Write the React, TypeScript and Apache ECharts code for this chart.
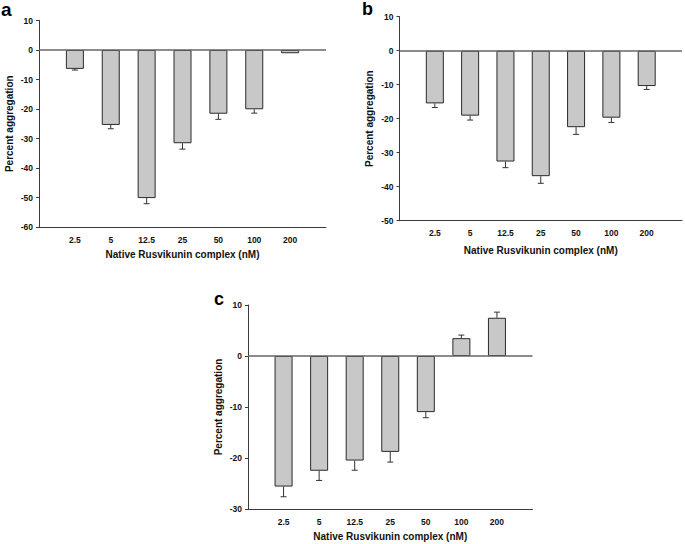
import React, { useEffect, useRef } from 'react';
import * as echarts from 'echarts';

const categories = ['2.5', '5', '12.5', '25', '50', '100', '200'];

const valuesA = [-6.4, -25.4, -50.2, -31.6, -21.6, -20.1, -1.1];
const errorsA = [0.4, 1.3, 1.9, 2.0, 1.9, 1.3, 0];

const valuesB = [-15.5, -19.1, -32.6, -36.9, -22.5, -19.7, -10.4];
const errorsB = [1.2, 1.3, 1.8, 2.1, 2.1, 1.4, 1.0];

const valuesC = [-25.6, -22.5, -20.5, -18.8, -11.0, 3.5, 7.5];
const errorsC = [2.0, 1.9, 1.9, 2.0, 1.1, 0.6, 1.1];

const yRangeA = [-60, 10];
const yRangeB = [-50, 10];
const yRangeC = [-30, 10];

const xTitle = 'Native Rusvikunin complex (nM)';
const yTitle = 'Percent aggregation';
const panelLetters = ['a', 'b', 'c'];

const FONT = '"Liberation Sans", Arial, Helvetica, sans-serif';
const AXIS_COLOR = '#3a3a3a';

export default function App() {
  const ref = useRef<HTMLDivElement>(null);

  useEffect(() => {
    if (!ref.current) return;
    const chart = echarts.init(ref.current, null, { renderer: 'svg' });

    const panels = [
      { values: valuesA, errors: errorsA, range: yRangeA, grid: { left: 39, top: 20.5, width: 287, height: 206.5 }, nameGap: 22 },
      { values: valuesB, errors: errorsB, range: yRangeB, grid: { left: 399.5, top: 16.7, width: 283.5, height: 204 }, nameGap: 25 },
      { values: valuesC, errors: errorsC, range: yRangeC, grid: { left: 248, top: 305, width: 284.5, height: 204 }, nameGap: 22 },
    ];

    const grids: any[] = [];
    const xAxes: any[] = [];
    const yAxes: any[] = [];
    const series: any[] = [];

    panels.forEach((p, i) => {
      grids.push({ ...p.grid, containLabel: false });
      xAxes.push({
        type: 'value',
        gridIndex: i,
        min: 0,
        max: categories.length + 1,
        interval: 1,
        axisLine: { show: true, onZero: false, lineStyle: { color: AXIS_COLOR, width: 1 } },
        axisTick: { show: false },
        splitLine: { show: false },
        axisLabel: {
          formatter: (v: number) => categories[v - 1] ?? '',
          fontFamily: FONT,
          fontWeight: 'bold',
          fontSize: 8.5,
          color: '#111',
          margin: 8,
        },
        name: xTitle,
        nameLocation: 'middle',
        nameGap: p.nameGap,
        nameTextStyle: { fontFamily: FONT, fontWeight: 'bold', fontSize: 10, color: '#111' },
      });
      yAxes.push({
        type: 'value',
        gridIndex: i,
        min: p.range[0],
        max: p.range[1],
        interval: 10,
        axisLine: { show: true, lineStyle: { color: AXIS_COLOR, width: 1 } },
        axisTick: { show: true, inside: false, length: 3, lineStyle: { color: AXIS_COLOR } },
        splitLine: { show: false },
        axisLabel: {
          fontFamily: FONT,
          fontWeight: 'bold',
          fontSize: 8.5,
          color: '#111',
          margin: 6,
        },
        name: yTitle,
        nameLocation: 'middle',
        nameGap: 25,
        nameRotate: 90,
        nameTextStyle: { fontFamily: FONT, fontWeight: 'bold', fontSize: 10, color: '#111' },
      });
      series.push({
        type: 'bar',
        xAxisIndex: i,
        yAxisIndex: i,
        barWidth: 18,
        data: p.values.map((v, k) => [k + 1, v]),
        itemStyle: { color: '#c8c8c8', borderColor: '#2a2a2a', borderWidth: 1 },
        markLine: {
          silent: true,
          symbol: 'none',
          label: { show: false },
          lineStyle: { color: '#666', width: 1.5, type: 'solid' },
          data: [{ yAxis: 0 }],
        },
        z: 2,
      });
      series.push({
        type: 'custom',
        xAxisIndex: i,
        yAxisIndex: i,
        data: p.values.map((v, k) => [k + 1, v, p.errors[k]]),
        renderItem: (_params: any, api: any) => {
          const x = api.value(0);
          const v = api.value(1);
          const e = api.value(2);
          if (!e) return { type: 'group', children: [] };
          const end = v < 0 ? v - e : v + e;
          const p0 = api.coord([x, v]);
          const p1 = api.coord([x, end]);
          const cap = 3;
          const style = { stroke: '#333', lineWidth: 1 };
          return {
            type: 'group',
            children: [
              { type: 'line', shape: { x1: p0[0], y1: p0[1], x2: p1[0], y2: p1[1] }, style },
              { type: 'line', shape: { x1: p1[0] - cap, y1: p1[1], x2: p1[0] + cap, y2: p1[1] }, style },
            ],
          };
        },
        z: 3,
      });
    });

    const letterStyle = (text: string, size: number) => ({
      text,
      fontFamily: FONT,
      fontWeight: 'bold',
      fontSize: size,
      fill: '#000',
    });

    chart.setOption({
      animation: false,
      backgroundColor: '#fff',
      grid: grids,
      xAxis: xAxes,
      yAxis: yAxes,
      series,
      graphic: [
        { type: 'text', left: 1, top: 0, style: letterStyle(panelLetters[0], 19) },
        { type: 'text', left: 362, top: 0, style: letterStyle(panelLetters[1], 18) },
        { type: 'text', left: 214, top: 290, style: letterStyle(panelLetters[2], 18) },
      ],
    });

    return () => chart.dispose();
  }, []);

  return (
    <div
      ref={ref}
      style={{ position: 'absolute', left: 0, top: 0, width: 685, height: 544, background: '#fff' }}
    />
  );
}
